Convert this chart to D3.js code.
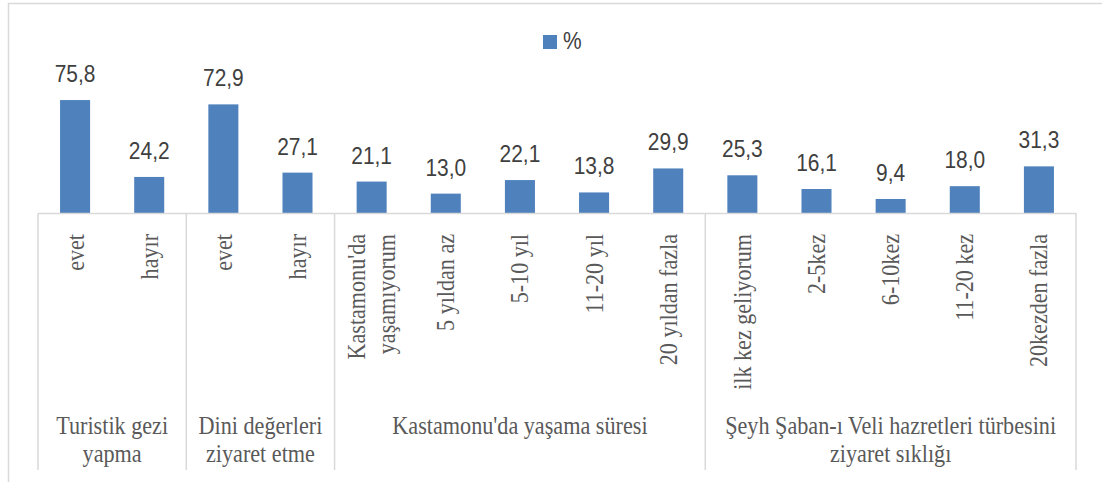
<!DOCTYPE html>
<html>
<head>
<meta charset="utf-8">
<script src="https://cdn.jsdelivr.net/npm/d3@7"></script>
<style>
  html, body { margin: 0; padding: 0; background: #fff; }
  svg { display: block; }
</style>
</head>
<body>
<svg id="chart" width="1102" height="482"></svg>
<script>
// ---- data ----
const seriesName = "%";
const groupLabels = [
  ["Turistik gezi", "yapma"],
  ["Dini değerleri", "ziyaret etme"],
  ["Kastamonu'da yaşama süresi"],
  ["Şeyh Şaban-ı Veli hazretleri türbesini", "ziyaret sıklığı"]
];
const groupSizes = [2, 2, 5, 5];
const categories = [
  ["evet"], ["hayır"],
  ["evet"], ["hayır"],
  ["Kastamonu'da", "yaşamıyorum"], ["5 yıldan az"], ["5-10 yıl"], ["11-20 yıl"], ["20 yıldan fazla"],
  ["ilk kez geliyorum"], ["2-5kez"], ["6-10kez"], ["11-20 kez"], ["20kezden fazla"]
];
const values = [75.8, 24.2, 72.9, 27.1, 21.1, 13.0, 22.1, 13.8, 29.9, 25.3, 16.1, 9.4, 18.0, 31.3];

// ---- layout ----
const SERIF = '"Liberation Serif"';
const SANS = '"Liberation Sans"';
const svg = d3.select("#chart");
const left = 38, right = 1076, baseY = 213;
const barColor = "#4F81BD", lineColor = "#D9D9D9";

svg.append("rect")
  .attr("x", 8.5).attr("y", 3.5).attr("width", 1110).attr("height", 500)
  .attr("fill", "#fff").attr("stroke", lineColor).attr("stroke-width", 1.5);

const x = d3.scaleBand()
  .domain(d3.range(values.length))
  .range([left, right])
  .paddingInner(0.595)
  .paddingOuter(0.2975);

const y = d3.scaleLinear().domain([0, 80]).range([baseY, baseY - 119.2]);

const fmt = v => d3.format(".1f")(v).replace(".", ",");

// bars
svg.append("g").selectAll("rect").data(values).join("rect")
  .attr("x", (d, i) => x(i))
  .attr("y", d => y(d))
  .attr("width", x.bandwidth())
  .attr("height", d => y(0) - y(d))
  .attr("fill", barColor);

// value labels
svg.append("g").selectAll("text").data(values).join("text")
  .style("font-family", SANS)
  .attr("transform", (d, i) => `translate(${x(i) + x.bandwidth() / 2},${y(d) - 18}) scale(0.91,1)`)
  .attr("text-anchor", "middle")
  .attr("font-size", 23)
  .attr("fill", "#404040")
  .text(d => fmt(d));

// axis line
svg.append("line")
  .attr("x1", left).attr("x2", right).attr("y1", baseY + 0.5).attr("y2", baseY + 0.5)
  .attr("stroke", lineColor).attr("stroke-width", 1.5);

// group dividers
const step = x.step();
let bounds = [0];
groupSizes.forEach(s => bounds.push(bounds[bounds.length - 1] + s));
svg.append("g").selectAll("line").data(bounds).join("line")
  .attr("x1", b => left + b * step).attr("x2", b => left + b * step)
  .attr("y1", baseY).attr("y2", 470)
  .attr("stroke", lineColor).attr("stroke-width", 1.5);

// rotated category labels
const catG = svg.append("g").selectAll("g").data(categories).join("g")
  .attr("transform", (d, i) => `translate(${x(i) + x.bandwidth() / 2},234) rotate(-90)`);
catG.each(function(lines) {
  const g = d3.select(this);
  const lh = 30;
  lines.forEach((ln, k) => {
    g.append("text")
      .style("font-family", SERIF)
      .attr("transform", `translate(0,${(k - (lines.length - 1) / 2) * lh + 8.5}) scale(0.85,1)`)
      .attr("text-anchor", "end")
      .attr("font-size", 26)
      .attr("fill", "#595959")
      .text(ln);
  });
});

// group labels
groupLabels.forEach((lines, gi) => {
  const cx = left + (bounds[gi] + bounds[gi + 1]) / 2 * step;
  lines.forEach((ln, k) => {
    svg.append("text")
      .style("font-family", SERIF)
      .attr("transform", `translate(${cx},${434 + k * 28}) scale(0.87,1)`)
      .attr("text-anchor", "middle")
      .attr("font-size", 25.5)
      .attr("fill", "#595959")
      .text(ln);
  });
});

// legend
const lg = svg.append("g").attr("transform", "translate(543,35)");
lg.append("rect").attr("width", 14).attr("height", 14).attr("fill", barColor);
lg.append("text").style("font-family", SANS)
  .attr("transform", "translate(20,14) scale(0.91,1)")
  .attr("font-size", 23).attr("fill", "#404040").text(seriesName);
</script>
</body>
</html>
